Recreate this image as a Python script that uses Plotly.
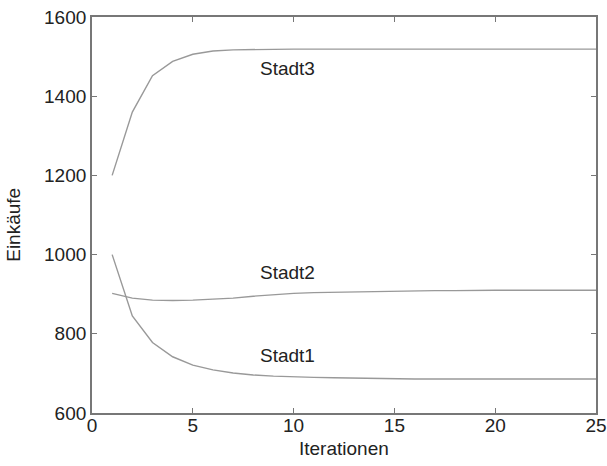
import plotly.graph_objects as go

iterations = list(range(1, 26))
stadt1 = [1000, 845, 778, 742, 721, 709, 701, 696, 693, 691, 690, 689, 688, 687, 687, 686, 686, 686, 686, 686, 686, 686, 686, 686, 686]
stadt2 = [902, 890, 885, 884, 885, 887, 890, 895, 899, 902, 904, 905, 906, 907, 908, 909, 909, 909, 910, 910, 910, 910, 910, 910, 910]
stadt3 = [1200, 1360, 1452, 1488, 1506, 1514, 1517, 1518, 1519, 1519, 1519, 1519, 1519, 1519, 1519, 1519, 1519, 1519, 1519, 1519, 1519, 1519, 1519, 1519, 1519]
series_names = ["Stadt1", "Stadt2", "Stadt3"]
label_x = [9.7, 9.7, 9.7]
label_y = [745, 955, 1470]
x_title = "Iterationen"
y_title = "Einkäufe"

FONT = "Liberation Sans, Arial, sans-serif"
fig = go.Figure()
for name, ys in zip(series_names, [stadt1, stadt2, stadt3]):
    fig.add_trace(go.Scatter(x=iterations, y=ys, mode="lines", name=name,
                             line=dict(color="#999999", width=1.4), showlegend=False))
for name, lx, ly in zip(series_names, label_x, label_y):
    fig.add_annotation(x=lx, y=ly, text=name, showarrow=False,
                       font=dict(family=FONT, size=19, color="#222"))

fig.add_annotation(xref="paper", yref="paper", x=0.5, y=-0.09, text=x_title,
                   showarrow=False, xanchor="center", yanchor="middle",
                   font=dict(family=FONT, size=19, color="#222"))
fig.add_annotation(xref="paper", yref="paper", x=-0.155, y=0.475, text=y_title,
                   showarrow=False, textangle=-90, xanchor="center", yanchor="middle",
                   font=dict(family=FONT, size=19, color="#222"))

axis_common = dict(showline=True, linecolor="#777", linewidth=1.8, mirror="ticks",
                   ticks="inside", ticklen=5, tickcolor="#777", showgrid=False,
                   zeroline=False, automargin=False,
                   tickfont=dict(family=FONT, size=19, color="#222"))
fig.update_xaxes(range=[0, 25], tickvals=[0, 5, 10, 15, 20, 25], ticklabelstandoff=-6, **axis_common)
fig.update_yaxes(range=[600, 1600], tickvals=[600, 800, 1000, 1200, 1400, 1600], **axis_common)
fig.update_layout(width=607, height=466, margin=dict(l=92, r=11, t=17, b=53, autoexpand=False),
                  plot_bgcolor="white", paper_bgcolor="white")
fig.write_html("out.html")
